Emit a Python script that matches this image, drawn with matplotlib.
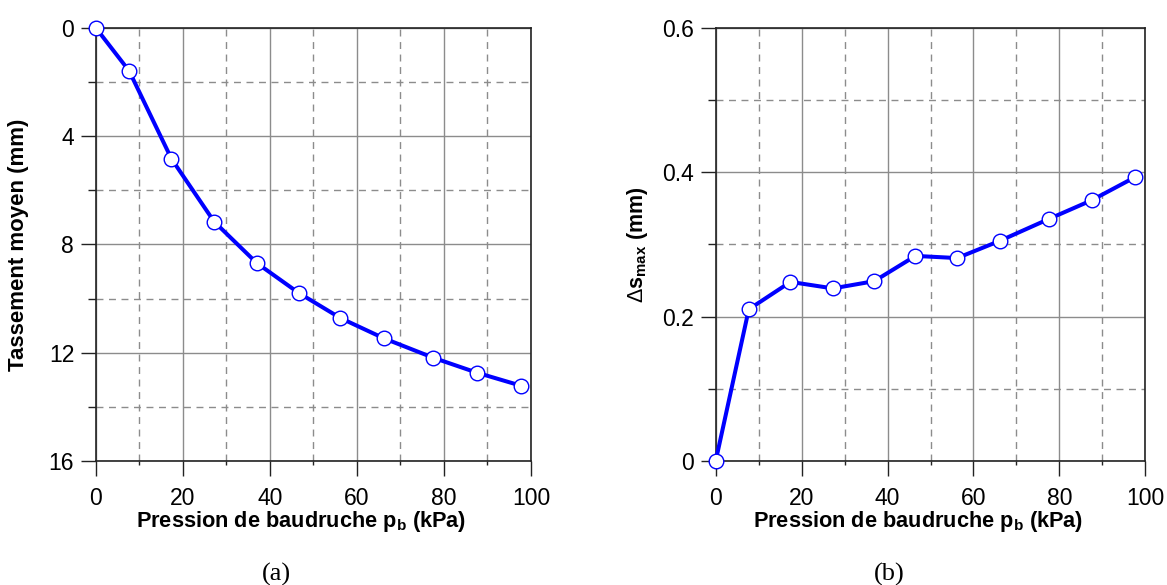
import matplotlib
matplotlib.use("Agg")
import matplotlib.pyplot as plt
from matplotlib.ticker import MultipleLocator, FuncFormatter

plt.rcParams['font.family'] = ['Liberation Sans', 'DejaVu Sans']
plt.rcParams['mathtext.fontset'] = 'custom'
plt.rcParams['mathtext.rm'] = 'Liberation Sans'
plt.rcParams['mathtext.bf'] = 'Liberation Sans:bold'
plt.rcParams['mathtext.it'] = 'Liberation Sans:italic'

# Data
pressure_a = [0, 7.7, 17.4, 27.2, 37.0, 46.6, 56.2, 66.2, 77.6, 87.6, 97.7]
settlement = [0, 1.60, 4.84, 7.16, 8.69, 9.79, 10.72, 11.47, 12.19, 12.74, 13.22]
pressure_b = [0, 7.7, 17.4, 27.3, 36.9, 46.5, 56.2, 66.2, 77.5, 87.5, 97.6]
delta_s = [0, 0.210, 0.248, 0.239, 0.249, 0.284, 0.281, 0.305, 0.335, 0.361, 0.393]

xlabel = r'Pression de baudruche p$_\mathbf{b}$ (kPa)'
ylabel_a = 'Tassement moyen (mm)'
ylabel_b = r'$\Delta\mathbf{s}_{\mathbf{max}}$ (mm)'
captions = ['(a)', '(b)']

fig = plt.figure(figsize=(11.67, 5.85), dpi=100)
W, H = 1167, 585
top, bottom = 27.7, 461
ax1 = fig.add_axes([95.7 / W, 1 - bottom / H, (531 - 95.7) / W, (bottom - top) / H])
ax2 = fig.add_axes([715.7 / W, 1 - bottom / H, (1145.3 - 715.7) / W, (bottom - top) / H])

line_kw = dict(color='#0000ff', lw=2.9, marker='o', ms=10.5, mfc='white',
               mec='#0000ff', mew=1.0, clip_on=False, zorder=5)

def style(ax):
    ax.set_xlim(0, 100)
    ax.xaxis.set_major_locator(MultipleLocator(20))
    ax.xaxis.set_minor_locator(MultipleLocator(10))
    ax.grid(which='major', color='#8c8c8c', lw=1.0, ls='-')
    ax.grid(which='minor', color='#8c8c8c', lw=1.0, ls=(0, (5, 4)))
    ax.set_axisbelow(True)
    for s in ax.spines.values():
        s.set_linewidth(1.2)
        s.set_color('#222222')
    ax.tick_params(which='major', direction='out', length=10.5, width=1.0,
                   labelsize=16.5, pad=5, color='#222222')
    ax.tick_params(axis='x', which='major', pad=8)
    ax.tick_params(axis='x', which='minor', direction='out', length=3, width=1.0, color='#222222')
    ax.tick_params(axis='y', which='minor', direction='out', length=6, width=1.0, color='#222222')
    ax.set_xlabel(xlabel, fontsize=15.7, fontweight='bold')
    ax.xaxis.set_label_coords(0.472, -0.139, transform=ax.transAxes)
    ax.xaxis.label.set_va('center')

style(ax1)
ax1.plot(pressure_a, settlement, **line_kw)
ax1.set_ylim(16, 0)
ax1.yaxis.set_major_locator(MultipleLocator(4))
ax1.yaxis.set_minor_locator(MultipleLocator(2))
ax1.set_ylabel(ylabel_a, fontsize=16, fontweight='bold', labelpad=14)

style(ax2)
ax2.plot(pressure_b, delta_s, **line_kw)
ax2.set_ylim(0, 0.6)
ax2.yaxis.set_major_locator(MultipleLocator(0.2))
ax2.yaxis.set_minor_locator(MultipleLocator(0.1))
ax2.yaxis.set_major_formatter(FuncFormatter(lambda v, p: '0' if abs(v) < 1e-9 else f'{v:.1f}'))
ax2.set_ylabel(ylabel_b, fontsize=15.5, fontweight='bold', labelpad=9)

fig.text(276 / W, 1 - 574 / H, captions[0], fontsize=19, family='Liberation Serif',
         ha='center', va='center')
fig.text(889 / W, 1 - 574 / H, captions[1], fontsize=19, family='Liberation Serif',
         ha='center', va='center')

fig.savefig('out.png', dpi=100)
